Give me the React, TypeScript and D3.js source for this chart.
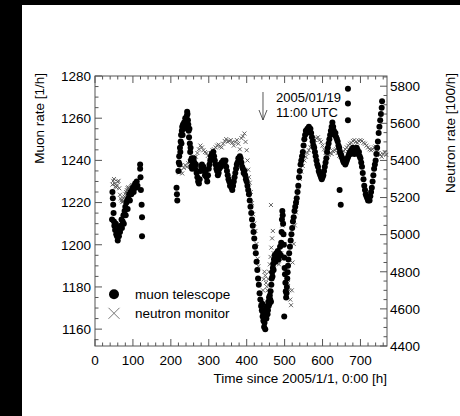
import React from 'react';
import * as d3 from 'd3';

// ---- data ----
const muonHours = [
  45, 46, 47, 48, 49, 50, 51, 53, 55, 56, 58, 60, 61, 63, 64, 66, 68, 70, 71, 73, 75, 76, 78, 80, 81, 83, 85, 86, 88, 90, 92, 94, 96, 98, 100, 102, 104, 106, 108, 110, 112, 119, 119, 120, 121, 123, 124, 124,
  215, 216, 217, 220, 221, 222, 223, 224, 225, 226, 227, 228, 229, 230, 231, 232, 234, 235, 236, 238, 239, 240, 242, 243, 244, 245, 246, 247, 248, 249, 250, 251, 252, 253, 254, 255, 256, 258,
  260, 262, 264, 266, 268, 270, 272, 274, 276, 278, 280, 282, 284, 286, 288, 290, 292, 294, 296, 298, 300, 302, 304, 306, 308, 310, 312, 314, 316, 318, 320, 322, 324, 326, 328, 330, 332, 334, 336, 338, 340, 342, 344, 346, 348, 350, 352, 354, 356, 358, 360, 362, 364, 366, 368, 370, 372, 374, 376, 378, 380, 382, 384, 386, 388, 390, 392, 394, 396, 398, 400,
  402, 404, 406, 408, 410, 412, 414, 416, 418, 420, 422, 424, 426, 428, 430, 432, 434, 436, 438, 440, 441, 442, 443, 444, 445, 446, 447, 448, 449, 450, 451, 452, 453, 454, 455, 456, 457, 458, 459, 460, 461, 462, 463, 464, 465, 466, 467, 468, 469, 470, 471, 472, 474, 476, 478, 480, 482, 484, 486, 488, 490, 491, 492, 493, 494, 495, 496, 497, 498, 499, 499, 500, 501, 502, 503, 504, 505, 506, 507, 508, 509, 510, 512, 514, 516, 518, 520, 522, 524, 526, 528, 530,
  532, 534, 536, 538, 540, 542, 544, 546, 548, 550, 552, 554, 556, 558, 560, 562, 564, 566, 568, 570, 572, 574, 576, 578, 580, 582, 584, 586, 588, 590, 592, 594, 596, 598, 600, 602, 604, 606, 608, 610, 612, 614, 616, 618, 620, 622, 624, 626, 628, 630, 632, 634, 636, 638, 640, 642, 644, 645, 646, 648, 648, 650, 652, 654, 656, 658, 660, 662, 664, 666, 667, 667, 667, 668, 670, 672, 674, 676, 678, 680, 682, 684, 686, 688, 690, 692, 694, 696, 698, 700,
  702, 704, 706, 708, 710, 712, 714, 716, 718, 720, 722, 724, 726, 728, 730, 732, 734, 736, 738, 740, 742, 744, 746, 748, 750, 752, 754, 756, 757,
];
const muonRate = [
  1212, 1225, 1222, 1219, 1215, 1211, 1209, 1207, 1210, 1205, 1204, 1202, 1206, 1204, 1208, 1206, 1209, 1212, 1208, 1211, 1214, 1210, 1216, 1218, 1214, 1220, 1221, 1217, 1222, 1224, 1221, 1225, 1224, 1226, 1227, 1225, 1228, 1229, 1227, 1230, 1228, 1238, 1236, 1232, 1226, 1219, 1213, 1204,
  1227, 1224, 1221, 1235, 1239, 1242, 1238, 1246, 1244, 1249, 1252, 1248, 1254, 1256, 1252, 1257, 1255, 1258, 1256, 1260, 1257, 1259, 1261, 1263, 1262, 1259, 1257, 1254, 1251, 1255, 1248, 1244, 1246, 1240, 1237, 1241, 1236, 1238,
  1241, 1239, 1236, 1238, 1234, 1232, 1230, 1229, 1231, 1235, 1237, 1238, 1236, 1237, 1235, 1233, 1235, 1232, 1230, 1233, 1236, 1238, 1240, 1242, 1243, 1241, 1244, 1242, 1240, 1238, 1236, 1235, 1233, 1234, 1236, 1238, 1237, 1239, 1238, 1240, 1239, 1238, 1240, 1237, 1235, 1233, 1231, 1230, 1228, 1229, 1227, 1226, 1228, 1230, 1232, 1234, 1236, 1238, 1239, 1241, 1240, 1242, 1241, 1239, 1237, 1236, 1234, 1235, 1233, 1231, 1230,
  1228, 1226, 1224, 1221, 1218, 1215, 1212, 1209, 1206, 1203, 1199, 1196, 1192, 1188, 1184, 1181, 1177, 1174, 1171, 1169, 1172, 1166, 1168, 1164, 1167, 1161, 1163, 1165, 1160, 1167, 1170, 1165, 1168, 1171, 1167, 1169, 1173, 1171, 1175, 1172, 1176, 1174, 1178, 1173, 1181, 1184, 1187, 1185, 1189, 1191, 1188, 1193, 1195, 1192, 1196, 1194, 1197, 1193, 1196, 1199, 1195, 1201, 1206, 1212, 1216, 1214, 1210, 1205, 1200, 1166, 1194, 1189, 1186, 1182, 1178, 1175, 1177, 1180, 1184, 1187, 1190, 1193, 1196, 1199, 1202, 1205, 1208, 1211, 1213, 1216, 1218, 1220,
  1222, 1225, 1228, 1232, 1235, 1238, 1240, 1242, 1244, 1247, 1250, 1252, 1254, 1253, 1255, 1254, 1256, 1254, 1255, 1253, 1251, 1249, 1247, 1246, 1244, 1242, 1240, 1238, 1237, 1235, 1234, 1233, 1232, 1231, 1232, 1233, 1235, 1237, 1239, 1241, 1244, 1246, 1248, 1250, 1252, 1254, 1256, 1258, 1256, 1254, 1252, 1253, 1251, 1250, 1249, 1247, 1246, 1226, 1244, 1243, 1219, 1242, 1241, 1240, 1239, 1240, 1238, 1239, 1240, 1241, 1274, 1267, 1259, 1242, 1243, 1244, 1243, 1245, 1244, 1246, 1244, 1243, 1245, 1244, 1246, 1245, 1243, 1244, 1242, 1241,
  1239, 1237, 1234, 1231, 1228, 1226, 1224, 1223, 1222, 1221, 1222, 1221, 1223, 1225, 1227, 1230, 1233, 1236, 1238, 1240, 1243, 1246, 1249, 1253, 1256, 1259, 1262, 1265, 1268,
];

const neutronHours = [
  46, 48, 50, 52, 54, 56, 58, 60, 62, 64, 66, 68, 70, 72, 74, 76, 78, 80, 82, 84, 86, 88, 90, 92, 94, 96, 98, 100, 102,
  222, 226, 230, 234, 238, 242, 246, 250, 254, 258, 262, 266, 270, 274, 278, 282, 286, 290, 294, 298, 302, 306, 310, 314, 318, 322, 326, 330, 334, 338, 342, 346, 350, 354, 358, 362, 366, 370, 374, 378, 382, 386, 390, 394, 397, 400,
  402, 404, 406, 408, 411, 414, 417, 420, 423, 426, 429, 431, 433, 435, 437, 439, 441, 443, 445, 447, 449, 451, 453, 455, 457, 459, 461, 463, 464, 465, 467, 469, 471, 473, 476, 479, 482, 485, 488, 491, 494, 496, 498, 500, 503, 506, 509, 512, 515, 517, 519, 521, 524, 527, 530,
  533, 536, 540, 544, 548, 552, 556, 560, 564, 568, 572, 576, 580, 584, 588, 592, 596, 600, 604, 608, 612, 616, 620, 624, 628, 632, 636, 640, 644, 648, 652, 656, 660, 664, 668, 672, 676, 680, 684, 688, 692, 696, 700, 704, 708, 712, 716, 720, 724, 728, 732, 736, 740, 744, 748, 752, 756, 760, 764, 768,
];
const neutronRate = [
  5270, 5290, 5300, 5275, 5260, 5255, 5265, 5285, 5290, 5250, 5215, 5195, 5185, 5175, 5180, 5195, 5205, 5220, 5230, 5240, 5250, 5255, 5250, 5245, 5255, 5262, 5268, 5260, 5265,
  5335, 5345, 5330, 5360, 5375, 5365, 5385, 5395, 5390, 5405, 5415, 5420, 5440, 5460, 5480, 5470, 5455, 5445, 5440, 5425, 5420, 5440, 5455, 5460, 5470, 5480, 5485, 5475, 5470, 5490, 5505, 5515, 5500, 5505, 5510, 5495, 5480, 5500, 5510, 5490, 5460, 5520, 5530, 5545, 5500, 5455,
  5400, 5350, 5310, 5280, 5230, 5170, 5110, 5060, 5020, 4950, 4870, 4830, 4760, 4680, 4620, 4590, 4640, 4700, 4760, 4800, 4780, 4740, 4720, 4700, 4760, 4800, 4840, 4880, 5160, 4930, 4980, 5020, 4900, 4860, 4850, 4870, 4860, 4840, 4870, 4900, 5050, 5060, 5000, 4950, 4870, 4800, 4740, 4700, 4650, 4620, 4700, 4850, 4950, 5050, 5120,
  5170, 5240, 5300, 5340, 5370, 5400, 5420, 5440, 5455, 5470, 5490, 5505, 5510, 5520, 5525, 5510, 5500, 5480, 5460, 5440, 5420, 5430, 5440, 5435, 5450, 5455, 5460, 5440, 5425, 5420, 5430, 5450, 5460, 5470, 5480, 5490, 5495, 5505, 5510, 5500, 5495, 5505, 5510, 5505, 5495, 5490, 5480, 5470, 5460, 5455, 5460, 5470, 5475, 5460, 5440, 5430, 5420, 5435, 5445, 5430,
];

const hourTicks = [0, 100, 200, 300, 400, 500, 600, 700];
const muonTicks = [1160, 1180, 1200, 1220, 1240, 1260, 1280];
const neutronTicks = [4400, 4600, 4800, 5000, 5200, 5400, 5600, 5800];
const annotationHour = 443;
const annotationLines = ['2005/01/19', '11:00 UTC'];
const legendLabels = ['muon telescope', 'neutron monitor'];

const FONT = '"Liberation Sans", Arial, Helvetica, sans-serif';
const AX = '#555';

export default function App() {
  const W = 460;
  const H = 416;
  const left = 95, right = 387, top = 76, bottom = 346;
  const x = d3.scaleLinear().domain([0, 770]).range([left, right]);
  const yM = d3.scaleLinear().domain([1152, 1280]).range([bottom, top]);
  const yN = d3.scaleLinear().domain([4400, 5855]).range([bottom, top]);

  const xMinor = d3.range(0, 771, 20);
  const mMinor = d3.range(1155, 1281, 5);
  const nMinor = d3.range(4400, 5851, 50);

  const muonPts = muonHours.map((h, i) => [x(h), yM(muonRate[i])]);
  const neutPts = neutronHours.map((h, i) => [x(h), yN(neutronRate[i])]);
  const s = 2;
  const ax = x(annotationHour);

  return (
    <svg width={W} height={H} style={{ position: 'absolute', left: 0, top: 0, background: '#fff' }} fontFamily={FONT}>
      <rect x={0} y={0} width={W} height={H} fill="#fff" />
      <rect x={0} y={0} width={22} height={H} fill="#000" />
      <rect x={0} y={0} width={W} height={5} fill="#000" />

      {/* data */}
      <g stroke="#555" strokeWidth={0.9}>
        {neutPts.map(([px, py], i) => (
          <path key={i} d={`M${px - s},${py - s}L${px + s},${py + s}M${px - s},${py + s}L${px + s},${py - s}`} />
        ))}
      </g>
      <g fill="#000">
        {muonPts.map(([px, py], i) => (
          <circle key={i} cx={px} cy={py} r={3} />
        ))}
      </g>

      {/* frame */}
      <rect x={left} y={top} width={right - left} height={bottom - top} fill="none" stroke={AX} strokeWidth={1} />
      <g stroke={AX} strokeWidth={1}>
        {xMinor.map((v) => {
          const major = v % 100 === 0;
          const l = major ? 7 : 3.5;
          return (
            <g key={v}>
              <line x1={x(v)} x2={x(v)} y1={bottom} y2={bottom - l} />
              <line x1={x(v)} x2={x(v)} y1={top} y2={top + l} />
            </g>
          );
        })}
        {mMinor.map((v) => {
          const l = v % 20 === 0 ? 7 : 3.5;
          return <line key={v} x1={left} x2={left + l} y1={yM(v)} y2={yM(v)} />;
        })}
        {nMinor.map((v) => {
          const l = v % 200 === 0 ? 7 : 3.5;
          return <line key={v} x1={right} x2={right - l} y1={yN(v)} y2={yN(v)} />;
        })}
      </g>

      <g fontSize={13.5} fill="#000">
        {hourTicks.map((v) => (
          <text key={v} x={x(v)} y={365} textAnchor="middle">{v}</text>
        ))}
        {muonTicks.map((v) => (
          <text key={v} x={91} y={yM(v) + 4.8} textAnchor="end">{v}</text>
        ))}
        {neutronTicks.map((v) => (
          <text key={v} x={390} y={yN(v) + 4.8} textAnchor="start">{v}</text>
        ))}
        <text x={right} y={383} textAnchor="end">Time since 2005/1/1, 0:00 [h]</text>
        <text transform={`translate(44,73) rotate(-90)`} textAnchor="end">Muon rate [1/h]</text>
        <text transform={`translate(455,73) rotate(-90)`} textAnchor="end">Neutron rate [100/h]</text>

        {/* annotation */}
        <text x={276} y={101.5} fontSize={13}>{annotationLines[0]}</text>
        <text x={276} y={116.5} fontSize={13}>{annotationLines[1]}</text>

        {/* legend */}
        <text x={135} y={299}>{legendLabels[0]}</text>
        <text x={135} y={318}>{legendLabels[1]}</text>
      </g>
      <g stroke="#444" strokeWidth={0.9} fill="none">
        <line x1={ax} x2={ax} y1={92} y2={120} />
        <path d={`M${ax - 4},${110}L${ax},${120}L${ax + 4},${110}`} />
      </g>
      <circle cx={114} cy={294.3} r={5} fill="#000" />
      <path d="M108.5,307.8L119.5,318.8M108.5,318.8L119.5,307.8" stroke="#777" strokeWidth={1} />
    </svg>
  );
}
